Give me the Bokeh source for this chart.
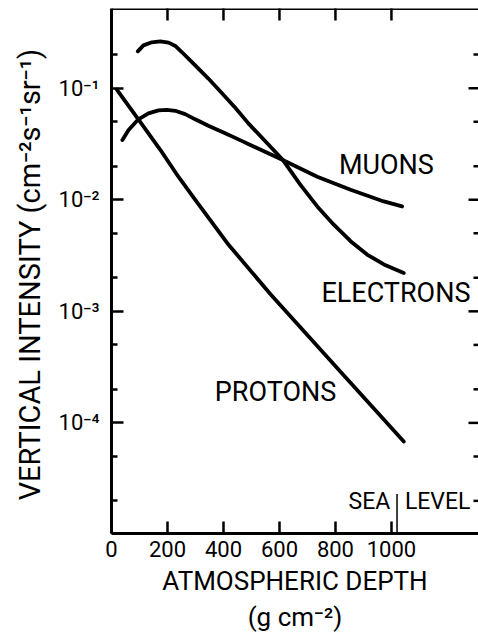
import math
from bokeh.plotting import figure
from bokeh.models import Range1d, FixedTicker, Label, Span
from bokeh.embed import file_html
from bokeh.resources import INLINE

FONT = "Roboto"

# ---- data (depth in g cm^-2, intensity in cm^-2 s^-1 sr^-1)
electron_depth = [94, 114, 144, 174, 204, 228, 251, 299, 346, 394, 442, 489,
                  610, 675, 735, 794, 854, 913, 973, 1044]
electron_intensity = [0.214, 0.242, 0.258, 0.263, 0.256, 0.239, 0.211, 0.160,
                      0.122, 0.0907, 0.0667, 0.0484, 0.0231, 0.0136, 0.00871,
                      0.00598, 0.00425, 0.00323, 0.00263, 0.00221]

muon_depth = [39, 61, 96, 132, 168, 198, 228, 263, 299, 346, 406, 465, 496,
              610, 735, 854, 973, 1038]
muon_intensity = [0.0343, 0.0422, 0.0526, 0.0594, 0.0632, 0.0640, 0.0627,
                  0.0586, 0.0526, 0.0461, 0.0394, 0.0337, 0.0310, 0.0228,
                  0.0161, 0.0123, 0.00966, 0.00871]

proton_depth = [19, 96, 175, 239, 294, 413, 568, 806, 1044]
proton_intensity = [0.0973, 0.0526, 0.0279, 0.0161, 0.0104, 0.0041, 0.00142,
                    3.10e-4, 6.8e-5]

sea_level_depth = [1020, 1020]
sea_level_marker = [1.0e-5, 2.3e-5]

x_ticks = [0, 200, 400, 600, 800, 1000]
y_ticks = [1e-4, 1e-3, 1e-2, 1e-1]
y_minor_ticks = [2e-5, 5e-5, 2e-4, 5e-4, 2e-3, 5e-3, 2e-2, 5e-2, 2e-1]
y_tick_labels = {1e-4: "10\u207b\u2074", 1e-3: "10\u207b\u00b3",
                 1e-2: "10\u207b\u00b2", 1e-1: "10\u207b\u00b9"}

x_title = "ATMOSPHERIC DEPTH\n(g cm\u207b\u00b2)"
y_title = "VERTICAL  INTENSITY (cm\u207b\u00b2s\u207b\u00b9sr\u207b\u00b9)"

X_MIN, X_MAX = 0, 1311
Y_MIN, Y_MAX = 1.02e-5, 0.518

p = figure(width=478, height=635, y_axis_type="log",
           x_range=Range1d(X_MIN, X_MAX), y_range=Range1d(Y_MIN, Y_MAX),
           output_backend="svg", toolbar_location=None,
           min_border_left=111, min_border_right=0, min_border_top=8,
           min_border_bottom=0)
p.outline_line_color = None
p.grid.visible = False
p.background_fill_color = "white"
p.border_fill_color = "white"

LW = 3
TW = 2.5
# left axis
ya = p.yaxis[0]
ya.ticker = FixedTicker(ticks=y_ticks, minor_ticks=y_minor_ticks)
ya.major_label_overrides = y_tick_labels
ya.major_tick_in = 12
ya.major_tick_out = 0
ya.minor_tick_in = 6
ya.minor_tick_out = 0
ya.axis_line_width = LW
ya.major_tick_line_width = TW
ya.minor_tick_line_width = TW
ya.major_label_standoff = 12
ya.major_label_text_font = FONT
ya.major_label_text_font_size = "22px"
ya.major_label_text_color = "black"
ya.axis_label = y_title
ya.axis_label_text_font = FONT
ya.axis_label_text_font_size = "29px"
ya.axis_label_text_font_style = "normal"
ya.axis_label_text_color = "black"
ya.axis_label_standoff = 9

# bottom axis
xa = p.xaxis[0]
xa.ticker = FixedTicker(ticks=x_ticks, minor_ticks=[])
xa.major_tick_in = 12
xa.major_tick_out = 0
xa.axis_line_width = LW
xa.major_tick_line_width = TW
xa.minor_tick_line_color = None
xa.major_label_standoff = 7
xa.major_label_text_font = FONT
xa.major_label_text_font_size = "22px"
xa.major_label_text_color = "black"
xa.axis_label = x_title
xa.axis_label_text_font = FONT
xa.axis_label_text_font_size = "26px"
xa.axis_label_text_font_style = "normal"
xa.axis_label_text_color = "black"
xa.axis_label_text_line_height = 1.22
xa.axis_label_standoff = 6

# top border with inward ticks
p.add_layout(Span(location=Y_MAX, dimension="width", line_color="black",
                  line_width=LW))
p.scatter(x_ticks[1:], [Y_MAX] * len(x_ticks[1:]), marker="dash",
          angle=math.pi / 2, size=24, line_color="black", line_width=TW)

# right side: inward ticks only (no spine)
p.scatter([X_MAX] * len(y_ticks), y_ticks, marker="dash", size=20,
          line_color="black", line_width=TW)
p.scatter([X_MAX] * len(y_minor_ticks), y_minor_ticks, marker="dash", size=10,
          line_color="black", line_width=TW)

CW = 3.8
p.line(electron_depth, electron_intensity, line_color="black", line_width=CW,
       line_cap="round", line_join="round")
p.line(muon_depth, muon_intensity, line_color="black", line_width=CW,
       line_cap="round", line_join="round")
p.line(proton_depth, proton_intensity, line_color="black", line_width=CW,
       line_cap="round", line_join="round")
p.line(sea_level_depth, sea_level_marker, line_color="black", line_width=1.5)


def lab(x, y, text, size, align="center"):
    p.add_layout(Label(x=x, y=y, text=text, text_align=align,
                       text_baseline="middle", text_font=FONT,
                       text_font_size=size, text_color="black"))


lab(982, 0.0205, "MUONS", "27px")
lab(1016, 1.45e-3, "ELECTRONS", "27px")
lab(586, 1.89e-4, "PROTONS", "27px")
lab(996, 1.97e-5, "SEA", "23px", "right")
lab(1048, 1.97e-5, "LEVEL", "23px", "left")

open("out.html", "w").write(file_html(p, INLINE))
